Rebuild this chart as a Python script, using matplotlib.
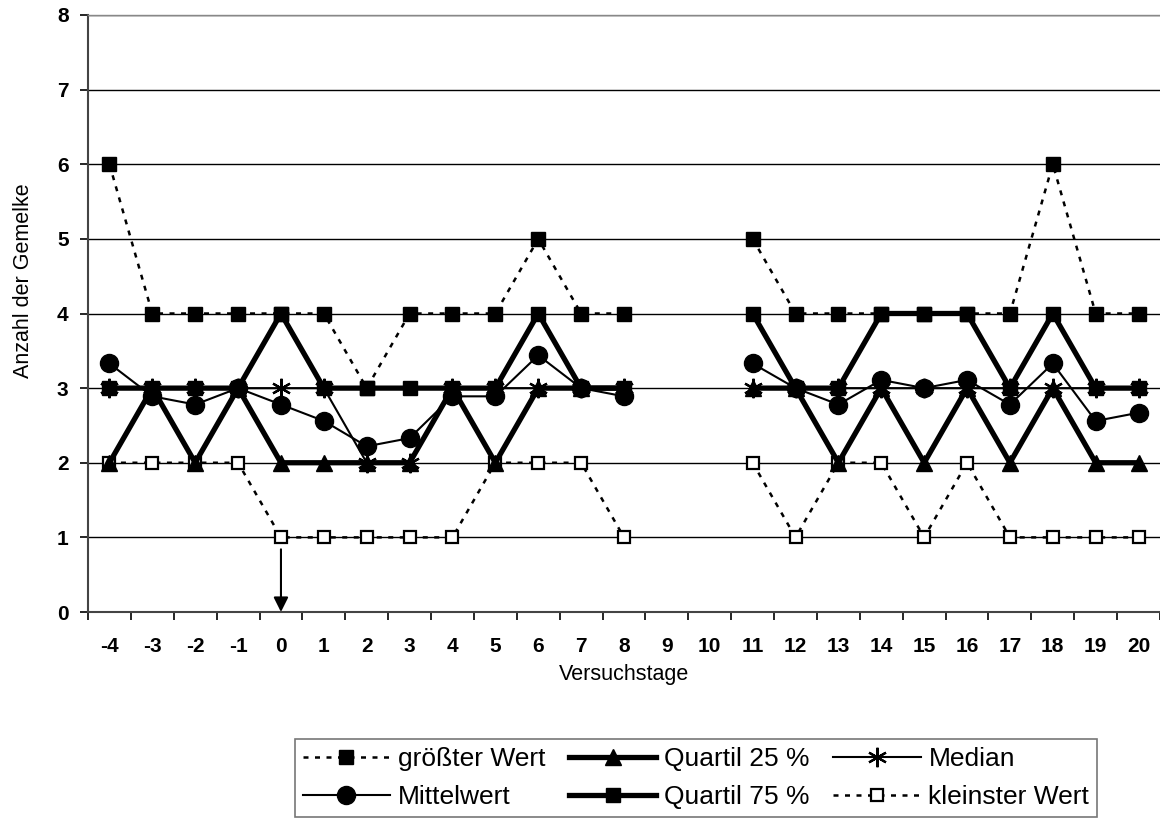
import numpy as np
import matplotlib
matplotlib.use("Agg")
import matplotlib.pyplot as plt
from matplotlib.lines import Line2D

plt.rcParams['font.family'] = ['Liberation Sans', 'DejaVu Sans']

days = list(range(-4, 21))
nan = np.nan
groesster = [6, 4, 4, 4, 4, 4, 3, 4, 4, 4, 5, 4, 4, nan, nan, 5, 4, 4, 4, 4, 4, 4, 6, 4, 4]
mittelwert = [3.33, 2.89, 2.78, 3.0, 2.78, 2.56, 2.22, 2.33, 2.89, 2.89, 3.44, 3.0, 2.89, nan, nan,
              3.33, 3.0, 2.78, 3.11, 3.0, 3.11, 2.78, 3.33, 2.56, 2.67]
q25 = [2, 3, 2, 3, 2, 2, 2, 2, 3, 2, 3, 3, 3, nan, nan, 3, 3, 2, 3, 2, 3, 2, 3, 2, 2]
q75 = [3, 3, 3, 3, 4, 3, 3, 3, 3, 3, 4, 3, 3, nan, nan, 4, 3, 3, 4, 4, 4, 3, 4, 3, 3]
median = [3, 3, 3, 3, 3, 3, 2, 2, 3, 3, 3, 3, 3, nan, nan, 3, 3, 3, 3, 3, 3, 3, 3, 3, 3]
kleinster = [2, 2, 2, 2, 1, 1, 1, 1, 1, 2, 2, 2, 1, nan, nan, 2, 1, 2, 2, 1, 2, 1, 1, 1, 1]
yticks = list(range(0, 9))

fig = plt.figure(figsize=(11.6, 8.18), dpi=100)
ax = fig.add_axes([88/1160, 1-612/818, 1-88/1160, (612-15)/818])

dot = (0, (2.0, 2.6))
ax.plot(days, kleinster, color='k', ls=dot, lw=1.8, marker='s', ms=9, mfc='white', mec='k', mew=1.6, zorder=3)
ax.plot(days, groesster, color='k', ls=dot, lw=1.8, marker='s', ms=10.5, mfc='k', mec='k', zorder=3)
ax.plot(days, q75, color='k', ls='-', lw=3.8, marker='s', ms=10.5, mfc='k', mec='k', zorder=4)
ax.plot(days, q25, color='k', ls='-', lw=3.8, marker='^', ms=12, mfc='k', mec='k', zorder=4)
ax.plot(days, median, color='k', ls='-', lw=1.5, marker=(6, 2, 0), ms=14, mew=1.6, mec='k', zorder=5)
ax.plot(days, mittelwert, color='k', ls='-', lw=1.5, marker='o', ms=13, mfc='k', mec='k', zorder=6)

ax.annotate('', xy=(0, 0), xytext=(0, 0.84),
            arrowprops=dict(arrowstyle='-|>', color='k', lw=1.5, mutation_scale=22,
                            shrinkA=0, shrinkB=0), zorder=7)

ax.set_xlim(-4.5, 20.5)
ax.set_ylim(0, 8)
ax.set_yticks(yticks)
ax.set_yticklabels([str(v) for v in yticks], fontweight='bold', fontsize=15)
ax.set_xticks(days)
ax.set_xticklabels([str(d) for d in days], fontweight='bold', fontsize=15)
ax.set_xticks(np.arange(-4.5, 20.6, 1), minor=True)
ax.tick_params(axis='x', which='major', length=0, pad=18)
ax.tick_params(axis='x', which='minor', length=6, width=1.2, direction='out')
ax.tick_params(axis='y', which='major', length=6, width=1.2, direction='out', pad=8)

ax.grid(axis='y', color='k', lw=1.0, zorder=0)
ax.set_axisbelow(True)
for s in ['left', 'bottom']:
    ax.spines[s].set_color('#444444')
    ax.spines[s].set_linewidth(1.5)
ax.spines['top'].set_color('#888888')
ax.spines['top'].set_linewidth(1.0)
ax.spines['right'].set_visible(False)

ax.set_xlabel('Versuchstage', fontsize=15.5, labelpad=6)
ax.set_ylabel('Anzahl der Gemelke', fontsize=15.5)
ax.yaxis.set_label_coords(-0.05, 0.555)

handles = [
    Line2D([], [], color='k', ls=dot, lw=1.8, marker='s', ms=10.5, mfc='k'),
    Line2D([], [], color='k', ls='-', lw=1.5, marker='o', ms=13, mfc='k'),
    Line2D([], [], color='k', ls='-', lw=3.8, marker='^', ms=12, mfc='k'),
    Line2D([], [], color='k', ls='-', lw=3.8, marker='s', ms=10.5, mfc='k'),
    Line2D([], [], color='k', ls='-', lw=1.5, marker=(6, 2, 0), ms=14, mew=1.6),
    Line2D([], [], color='k', ls=dot, lw=1.8, marker='s', ms=9, mfc='white', mew=1.6),
]
labels = ['größter Wert', 'Mittelwert', 'Quartil 25 %', 'Quartil 75 %', 'Median', 'kleinster Wert']
leg = fig.legend(handles, labels, ncol=3, loc='upper left',
                 bbox_to_anchor=(295/1160, 1-739/818), bbox_transform=fig.transFigure,
                 fontsize=19, frameon=True, fancybox=False, edgecolor='#555555',
                 handlelength=3.3, handletextpad=0.3, columnspacing=0.9,
                 labelspacing=0.55, borderpad=0.3, borderaxespad=0)
leg.get_frame().set_linewidth(1.2)

fig.savefig('out.png', dpi=100)
